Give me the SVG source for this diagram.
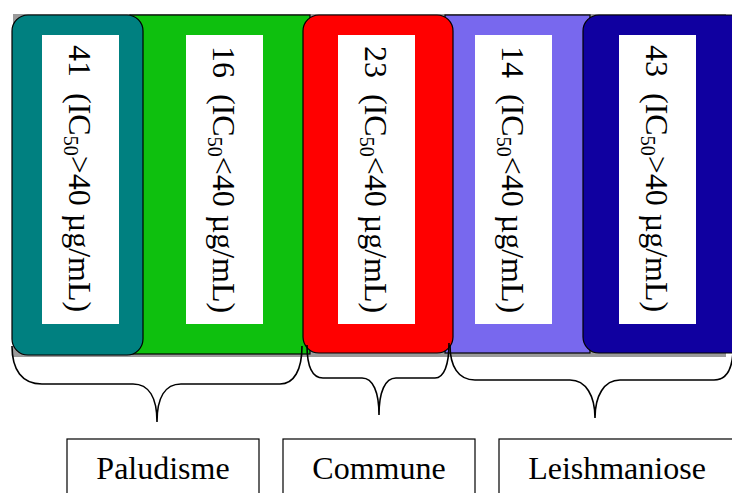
<svg xmlns="http://www.w3.org/2000/svg" width="732" height="493" viewBox="0 0 732 493">
<style>
.blk{stroke:#000;stroke-width:1.2}
.wbox{fill:#fff}
.vt{font-family:"Liberation Serif","Times New Roman",serif;font-size:32px;fill:#000;white-space:pre}
.sub{font-size:20px}
.brace{fill:none;stroke:#000;stroke-width:1.6}
.lbl{fill:#fff;stroke:#000;stroke-width:1.2}
.lt{font-family:"Liberation Serif","Times New Roman",serif;font-size:32px;fill:#000;text-anchor:middle}
</style>
<rect x="13" y="14" width="713" height="343" fill="#9a9a9a"/>
<g id="bar-green">
<rect class="blk" x="130" y="15" width="180" height="339" fill="#0EC00E"/>
<rect class="wbox" x="186" y="35" width="77" height="289"/>
<text class="vt" transform="translate(213,46) rotate(90)" xml:space="preserve">16  (IC<tspan class="sub" dy="5">50</tspan><tspan dy="-5">&lt;40 µg/mL)</tspan></text>
</g>
<g id="bar-purple">
<rect class="blk" x="445" y="15" width="145" height="338" fill="#7868EE"/>
<rect class="wbox" x="475" y="35" width="77" height="289"/>
<text class="vt" transform="translate(502,46) rotate(90)" xml:space="preserve">14  (IC<tspan class="sub" dy="5">50</tspan><tspan dy="-5">&lt;40 µg/mL)</tspan></text>
</g>
<g id="bar-teal">
<rect class="blk" x="12" y="15" width="131" height="340" rx="16" fill="#008080"/>
<rect class="wbox" x="42" y="35" width="77" height="289"/>
<text class="vt" transform="translate(69,45) rotate(90)" xml:space="preserve">41  (IC<tspan class="sub" dy="5">50</tspan><tspan dy="-5">&gt;40 µg/mL)</tspan></text>
</g>
<g id="bar-red">
<rect class="blk" x="303" y="15" width="150" height="338" rx="16" fill="#FF0000"/>
<rect class="wbox" x="338" y="35" width="77" height="289"/>
<text class="vt" transform="translate(365,46) rotate(90)" xml:space="preserve">23  (IC<tspan class="sub" dy="5">50</tspan><tspan dy="-5">&lt;40 µg/mL)</tspan></text>
</g>
<g id="bar-navy">
<rect class="blk" x="583" y="15" width="165" height="338" rx="16" fill="#1000A0"/>
<rect class="wbox" x="619" y="35" width="77" height="289"/>
<text class="vt" transform="translate(646,45) rotate(90)" xml:space="preserve">43  (IC<tspan class="sub" dy="5">50</tspan><tspan dy="-5">&gt;40 µg/mL)</tspan></text>
</g>
<g id="connectors">
<path class="brace" d="M12,346 C12,370 22,384 42,384 L133,384 C149,384 157,398 157,422 C157,398 165,384 181,384 L280,384 C294,384 302,370 302,346"/>
<path class="brace" d="M307,345 C307,366 312,378 323,378 L362,378 C373,378 379,392 379,415 C379,392 385,378 396,378 L435,378 C444,378 449,365 449,343"/>
<path class="brace" d="M450,345 C450,366 458,380 475,380 L570,380 C586,380 595,396 595,418 C595,396 604,380 620,380 L714,380 C726,380 732,370 733,352"/>
</g>
<g id="label-paludisme">
<rect class="lbl" x="67" y="439" width="192" height="66"/>
<text class="lt" x="163" y="479">Paludisme</text>
</g>
<g id="label-commune">
<rect class="lbl" x="283" y="439" width="192" height="66"/>
<text class="lt" x="379" y="479">Commune</text>
</g>
<g id="label-leishmaniose">
<rect class="lbl" x="499" y="439" width="240" height="66"/>
<text class="lt" x="617" y="479">Leishmaniose</text>
</g>
</svg>
